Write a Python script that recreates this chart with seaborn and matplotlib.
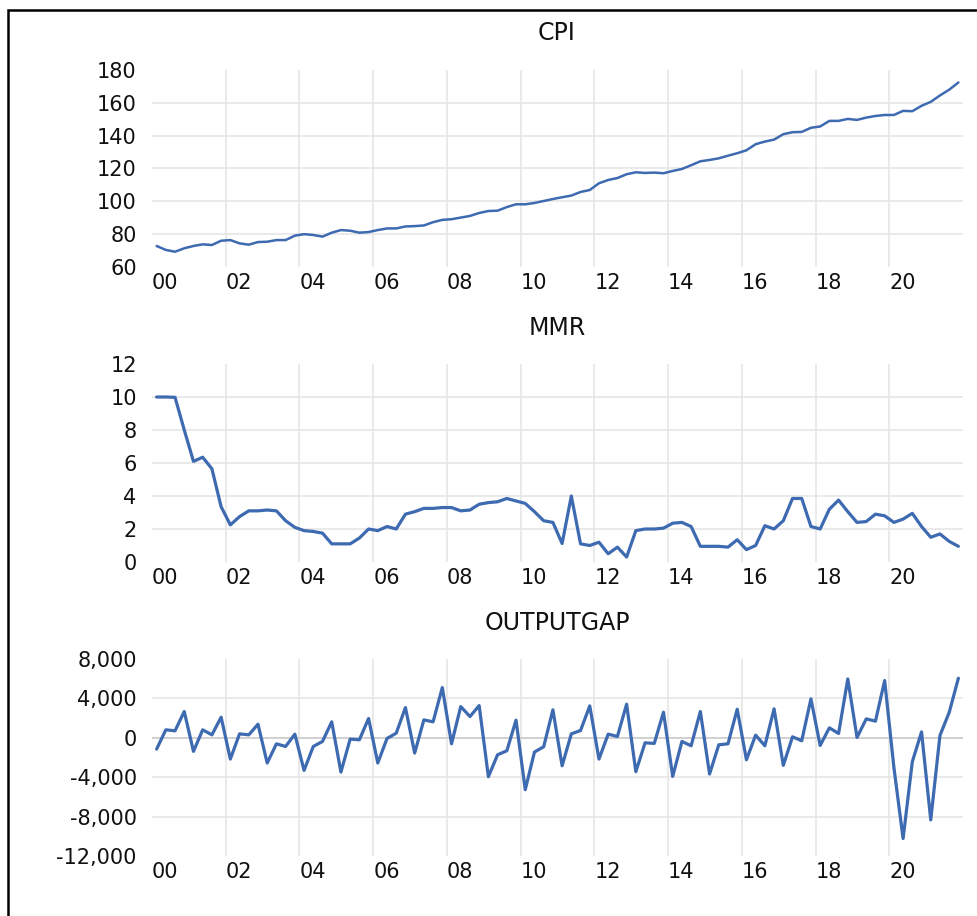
import numpy as np
import pandas as pd
import matplotlib
matplotlib.use("Agg")
import matplotlib.pyplot as plt
import seaborn as sns
from matplotlib.patches import Rectangle

# quarterly data, 2000Q1 - 2021Q4
cpi = [72.8, 70.4, 69.3, 71.4, 72.8, 73.8, 73.4, 76.0, 76.4, 74.4, 73.6, 75.2,
       75.4, 76.4, 76.4, 79.1, 80.0, 79.5, 78.5, 80.9, 82.5, 82.1, 80.9, 81.3,
       82.5, 83.5, 83.5, 84.7, 84.9, 85.3, 87.3, 88.7, 89.1, 90.1, 91.1, 92.9,
       94.1, 94.3, 96.5, 98.2, 98.2, 99.0, 100.2, 101.4, 102.5, 103.5, 105.7, 106.9,
       111.0, 113.0, 114.2, 116.5, 117.7, 117.3, 117.5, 117.1, 118.5, 119.7, 122.0, 124.4,
       125.2, 126.2, 127.8, 129.3, 131.1, 134.8, 136.4, 137.6, 140.9, 142.1, 142.3, 144.8,
       145.6, 149.0, 149.0, 150.2, 149.6, 151.0, 152.0, 152.6, 152.6, 155.1, 154.9, 158.2,
       160.6, 164.5, 168.0, 172.4]

mmr = [10.0, 10.0, 9.98, 8.0, 6.1, 6.35, 5.65, 3.35, 2.25, 2.75, 3.1, 3.1,
       3.15, 3.1, 2.5, 2.1, 1.9, 1.85, 1.75, 1.1, 1.1, 1.1, 1.45, 2.0,
       1.9, 2.15, 2.0, 2.9, 3.05, 3.25, 3.25, 3.3, 3.3, 3.1, 3.15, 3.5,
       3.6, 3.65, 3.85, 3.7, 3.55, 3.05, 2.5, 2.4, 1.12, 4.0, 1.1, 1.0,
       1.2, 0.5, 0.9, 0.3, 1.9, 2.0, 2.0, 2.05, 2.35, 2.4, 2.15, 0.95,
       0.95, 0.95, 0.9, 1.35, 0.75, 1.0, 2.2, 2.0, 2.5, 3.85, 3.85, 2.15,
       2.0, 3.2, 3.75, 3.05, 2.4, 2.45, 2.9, 2.8, 2.4, 2.6, 2.95, 2.15,
       1.5, 1.7, 1.25, 0.95]

outputgap = [-1150, 810, 710, 2670, -1380, 810, 300, 2090, -2160, 400, 300, 1380,
             -2560, -610, -880, 370, -3310, -880, -370, 1620, -3480, -135, -200, 1960,
             -2560, -70, 470, 3070, -1550, 1820, 1620, 5100, -610, 3170, 2160, 3270,
             -3950, -1720, -1320, 1790, -5270, -1450, -910, 2840, -2840, 400, 740, 3240,
             -2160, 370, 135, 3410, -3440, -510, -570, 2600, -3920, -370, -810, 2670,
             -3680, -710, -610, 2900, -2230, 270, -810, 2940, -2800, 100, -300, 3950,
             -780, 1010, 440, 5980, 35, 1920, 1690, 5810, -3000, -10230, -2430, 600,
             -8340, 240, 2570, 6050]

year_labels = ["00", "02", "04", "06", "08", "10", "12", "14", "16", "18", "20"]

df = pd.DataFrame({"t": np.arange(len(cpi)), "CPI": cpi, "MMR": mmr,
                   "OUTPUTGAP": outputgap})

sns.set_theme(style="whitegrid")
plt.rcParams["font.family"] = ["DejaVu Sans"]

W, H = 977, 916
fig = plt.figure(figsize=(W / 100, H / 100), dpi=100)

line_color = "#3d6ab0"
grid_color = "#e4e4e4"


def box(top, bottom):
    return [152 / W, 1 - bottom / H, (963 - 152) / W, (bottom - top) / H]


panels = [
    ("CPI", box(70, 267), (60, 180), np.arange(60, 181, 20), "{:.0f}", 1.8, 33),
    ("MMR", box(364, 562), (0, 12), np.arange(0, 13, 2), "{:.0f}", 2.3, 328),
    ("OUTPUTGAP", box(659, 856), (-12000, 8000), np.arange(-12000, 8001, 4000), "{:,.0f}", 2.3, 623),
]

for name, rect, ylim, yticks, fmt, lw, ty in panels:
    ax = fig.add_axes(rect)
    sns.lineplot(data=df, x="t", y=name, ax=ax, color=line_color, linewidth=lw)
    ax.set_xlim(-0.5, 87.5)
    ax.set_ylim(*ylim)
    xt = -0.5 + 8 * np.arange(len(year_labels))
    ax.set_xticks(xt)
    ax.set_xticklabels(year_labels, ha="left")
    ax.set_yticks(yticks)
    ax.set_yticklabels([fmt.format(v) for v in yticks])
    ax.set_xlabel("")
    ax.set_ylabel("")
    ax.grid(True, color=grid_color, linewidth=1.1)
    ax.xaxis.get_gridlines()[0].set_visible(False)
    ax.yaxis.get_gridlines()[-1].set_visible(False)
    ax.yaxis.get_gridlines()[0].set_visible(False)
    if name == "OUTPUTGAP":
        ax.axhline(0, color="#cfcfcf", linewidth=1.3, zorder=1)
    for s in ax.spines.values():
        s.set_visible(False)
    ax.tick_params(axis="both", length=0, labelsize=15, colors="#111111")
    ax.tick_params(axis="y", pad=11)
    ax.tick_params(axis="x", pad=4)
    fig.text(557 / W, 1 - ty / H, name, ha="center", va="center",
             fontsize=17, color="#111111", family=["DejaVu Sans"])

# outer frame
fig.patches.append(Rectangle((8 / W, -0.1), 1.2, 1 - 10 / H + 0.1,
                             transform=fig.transFigure, fill=False,
                             edgecolor="black", linewidth=1.8))

fig.savefig("out.png", dpi=100)
